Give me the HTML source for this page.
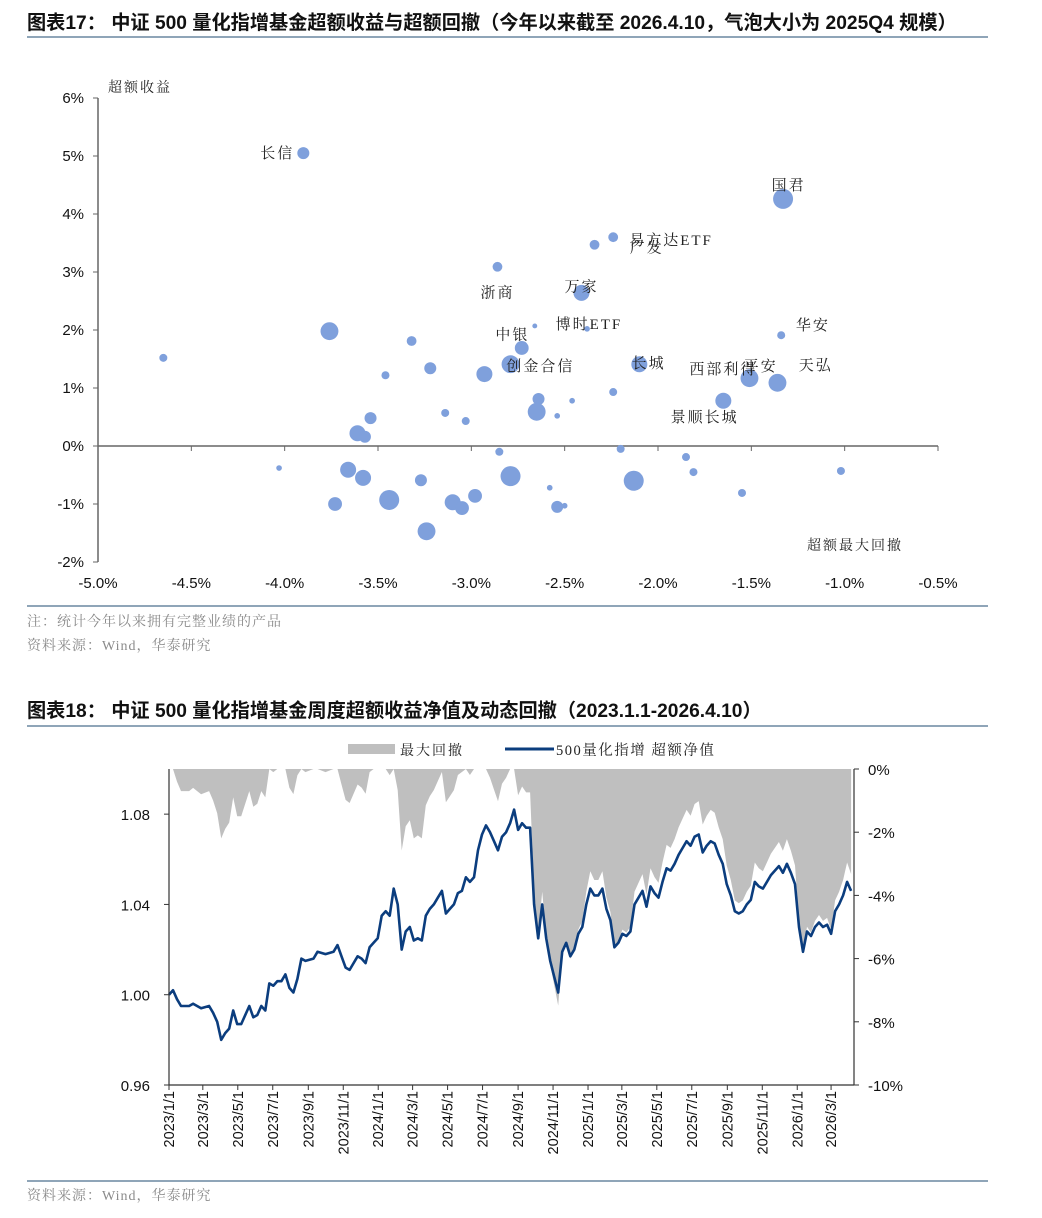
<!DOCTYPE html>
<html><head><meta charset="utf-8">
<style>
body{margin:0;background:#fff;}
svg{display:block;font-family:"Liberation Sans","Noto Sans CJK SC",sans-serif;}
.cn{font-family:"Liberation Serif","Noto Serif CJK SC",serif;}
</style></head>
<body>
<svg id="page" width="1042" height="1218" viewBox="0 0 1042 1218">
  <text x="27" y="29" font-size="19.2" font-weight="bold" fill="#111">图表17： 中证 500 量化指增基金超额收益与超额回撤（今年以来截至 2026.4.10，气泡大小为 2025Q4 规模）</text>
  <line x1="27" y1="37" x2="988" y2="37" stroke="#8fa5b8" stroke-width="2"/>
  <g id="scatter"></g>
  <line x1="27" y1="606" x2="988" y2="606" stroke="#8fa5b8" stroke-width="2"/>
  <text x="27" y="626" font-size="14" fill="#8a8a8a" class="cn" letter-spacing="1">注：统计今年以来拥有完整业绩的产品</text>
  <text x="27" y="650" font-size="14" fill="#8a8a8a" class="cn" letter-spacing="1">资料来源：Wind，华泰研究</text>
  <text x="27" y="717" font-size="19.2" font-weight="bold" fill="#111">图表18： 中证 500 量化指增基金周度超额收益净值及动态回撤（2023.1.1-2026.4.10）</text>
  <line x1="27" y1="726" x2="988" y2="726" stroke="#8fa5b8" stroke-width="2"/>
  <g id="linechart"></g>
  <line x1="27" y1="1181" x2="988" y2="1181" stroke="#8fa5b8" stroke-width="2"/>
  <text x="27" y="1200" font-size="14" fill="#8a8a8a" class="cn" letter-spacing="1">资料来源：Wind，华泰研究</text>
</svg>
<script>
// ---------- Chart 17 data ----------
const bubbleX = [-4.65,-3.90,-3.76,-3.32,-3.46,-3.22,-2.93,-2.86,-2.73,-2.79,-2.66,-3.54,-3.61,-3.57,-3.14,-3.03,-2.65,-2.64,-2.85,-2.79,-4.03,-3.66,-3.58,-3.73,-3.44,-3.27,-3.24,-3.10,-3.05,-2.98,-1.33,-2.24,-2.34,-2.41,-2.38,-2.10,-1.34,-1.51,-1.36,-1.65,-2.24,-2.46,-2.54,-2.20,-2.13,-1.85,-1.81,-2.58,-1.02,-1.55,-2.54,-2.50];
const bubbleY = [1.52,5.05,1.98,1.81,1.22,1.34,1.24,3.09,1.69,1.41,2.07,0.48,0.22,0.16,0.57,0.43,0.59,0.81,-0.10,-0.52,-0.38,-0.41,-0.55,-1.00,-0.93,-0.59,-1.47,-0.97,-1.07,-0.86,4.26,3.60,3.47,2.64,2.02,1.41,1.91,1.17,1.09,0.78,0.93,0.78,0.52,-0.05,-0.60,-0.19,-0.45,-0.72,-0.43,-0.81,-1.05,-1.03];
const bubbleScale = [4,9,20,6,4,9,16,6,12,20,1.5,9,16,9,4,4,20,9,4,25,2,16,16,12,25,9,20,16,12,12,25,6,6,16,2,16,4,20,20,16,4,2,2,4,25,4,4,2,4,4,9,2];
const labelNames = ["长信","国君","易方达ETF","广发","浙商","万家","博时ETF","中银","创金合信","长城","西部利得","平安","华安","天弘","景顺长城"];
const labelX = [-4.04,-1.30,-1.93,-2.06,-2.86,-2.41,-2.37,-2.78,-2.63,-2.05,-1.65,-1.45,-1.17,-1.155,-1.75];
const labelY = [5.05,4.50,3.55,3.42,2.65,2.75,2.10,1.92,1.38,1.43,1.33,1.38,2.09,1.40,0.50];
const sxTicks = [-5.0,-4.5,-4.0,-3.5,-3.0,-2.5,-2.0,-1.5,-1.0,-0.5];
const syTicks = [6,5,4,3,2,1,0,-1,-2];

// ---------- Chart 18 data ----------
const navWeeks = [0,1,2,3,5,6,8,10,11,12,13,14,15,16,17,18,20,21,22,23,24,25,26,27,28,29,30,31,32,33,34,36,37,39,41,42,43,44,45,47,48,49,50,51,52,53,54,55,56,57,58,59,60,61,62,63,64,65,66,67,68,69,70,71,72,73,74,75,76,77,78,79,80,81,82,83,84,85,86,87,88,89,90,91,92,93,94,95,96,97,98,99,100,101,102,103,104,105,106,107,108,109,110,111,112,113,114,115,116,117,118,119,120,121,122,123,124,125,126,127,128,129,130,131,132,133,134,135,136,137,138,139,140,141,142,143,144,145,146,147,148,149,150,151,152,153,154,155,156,157,158,159,160,161,162,163,164,165,166,167,168,169,170];
const navValues = [1.000,1.002,0.998,0.995,0.995,0.996,0.994,0.995,0.992,0.988,0.980,0.983,0.985,0.993,0.987,0.987,0.995,0.990,0.991,0.995,0.993,1.005,1.004,1.006,1.006,1.009,1.003,1.001,1.007,1.016,1.015,1.016,1.019,1.018,1.019,1.022,1.017,1.012,1.011,1.017,1.016,1.014,1.021,1.023,1.025,1.035,1.037,1.035,1.047,1.040,1.020,1.028,1.030,1.024,1.025,1.024,1.035,1.038,1.040,1.043,1.046,1.036,1.038,1.040,1.045,1.046,1.052,1.050,1.052,1.064,1.071,1.075,1.072,1.068,1.064,1.070,1.072,1.076,1.082,1.073,1.076,1.074,1.074,1.040,1.025,1.040,1.025,1.015,1.008,1.001,1.019,1.023,1.017,1.020,1.027,1.030,1.040,1.047,1.044,1.044,1.047,1.038,1.033,1.021,1.023,1.027,1.026,1.028,1.040,1.043,1.046,1.039,1.048,1.045,1.043,1.050,1.056,1.055,1.058,1.062,1.065,1.068,1.066,1.070,1.071,1.063,1.066,1.068,1.067,1.062,1.058,1.049,1.044,1.037,1.036,1.037,1.040,1.042,1.050,1.048,1.047,1.050,1.053,1.055,1.057,1.054,1.058,1.054,1.049,1.030,1.019,1.028,1.026,1.030,1.032,1.030,1.031,1.027,1.037,1.040,1.044,1.050,1.046];
const leftTicks = [0.96,1.00,1.04,1.08];
const rightTicks = [0,-2,-4,-6,-8,-10];
const dateTicks = ["2023/1/1","2023/3/1","2023/5/1","2023/7/1","2023/9/1","2023/11/1","2024/1/1","2024/3/1","2024/5/1","2024/7/1","2024/9/1","2024/11/1","2025/1/1","2025/3/1","2025/5/1","2025/7/1","2025/9/1","2025/11/1","2026/1/1","2026/3/1"];

const NS = "http://www.w3.org/2000/svg";
function mk(parent, tag, attrs, text){
  const e = document.createElementNS(NS, tag);
  for (const k in attrs) e.setAttribute(k, attrs[k]);
  if (text !== undefined) e.textContent = text;
  parent.appendChild(e);
  return e;
}

// ---------- draw chart 17 ----------
(function(){
  const g = document.getElementById('scatter');
  const X0 = 98, X1 = 938, Y0 = 98, Y1 = 562;
  const sx = v => X0 + (v - (-5)) / 4.5 * (X1 - X0);
  const sy = v => Y0 + (6 - v) / 8 * (Y1 - Y0);
  const yAxis = mk(g, 'line', {x1:X0, y1:Y0, x2:X0, y2:Y1, stroke:'#666', 'stroke-width':1.5});
  
  
  const xAxis = mk(g, 'line', {x1:X0, y1:sy(0), x2:X1, y2:sy(0), stroke:'#666', 'stroke-width':1.5});
  
  
  syTicks.forEach(t => {
    mk(g, 'line', {x1:X0-5, y1:sy(t), x2:X0, y2:sy(t), stroke:'#666'});
    const lb = mk(g, 'text', {x:84, y:sy(t)+5, 'font-size':15, 'text-anchor':'end', fill:'#111'}, t + '%');
    
    
  });
  sxTicks.forEach(t => {
    mk(g, 'line', {x1:sx(t), y1:sy(0), x2:sx(t), y2:sy(0)+5, stroke:'#666'});
    const lb = mk(g, 'text', {x:sx(t), y:588, 'font-size':15, 'text-anchor':'middle', fill:'#111'}, t.toFixed(1) + '%');
    
    
  });
  const yt = mk(g, 'text', {x:108, y:92, 'font-size':14, fill:'#222', class:'cn', 'letter-spacing':2}, '超额收益');
  
  
  const xt = mk(g, 'text', {x:807, y:550, 'font-size':14, fill:'#222', class:'cn', 'letter-spacing':2}, '超额最大回撤');
  
  
  bubbleX.forEach((v, i) => {
    const c = mk(g, 'circle', {cx:sx(v), cy:sy(bubbleY[i]), r:2*Math.sqrt(bubbleScale[i]), fill:'#7fa0dc'});
    
    
  });
  labelNames.forEach((n, i) => {
    const t = mk(g, 'text', {x:sx(labelX[i]), y:sy(labelY[i])+5, 'font-size':15, 'text-anchor':'middle', fill:'#222', class:'cn', 'letter-spacing':2}, n);
    
    
  });
})();

// ---------- draw chart 18 ----------
(function(){
  const g = document.getElementById('linechart');
  const X0 = 169, X1 = 854, Y0 = 769, Y1 = 1085;
  const TOTAL_DAYS = 1195;
  const start = Date.UTC(2023,0,1);
  const sxDay = d => X0 + d / TOTAL_DAYS * (X1 - X0);
  const sxWeek = w => sxDay(w * 7);
  const syL = v => Y0 + (1.10 - v) / 0.14 * (Y1 - Y0);
  const syR = p => Y0 + (-p) / 10 * (Y1 - Y0);

  let peak = -Infinity;
  const dd = navValues.map(v => { peak = Math.max(peak, v); return (v / peak - 1) * 100; });
  let dA = 'M' + sxWeek(navWeeks[0]) + ',' + syR(0);
  navWeeks.forEach((w, i) => { dA += ' L' + sxWeek(w).toFixed(1) + ',' + syR(dd[i]).toFixed(1); });
  dA += ' L' + sxWeek(navWeeks[navWeeks.length-1]) + ',' + syR(0) + ' Z';
  const area = mk(g, 'path', {d:dA, fill:'#bfbfbf'});
  
  

  let dL = '';
  navWeeks.forEach((w, i) => { dL += (i ? ' L' : 'M') + sxWeek(w).toFixed(1) + ',' + syL(navValues[i]).toFixed(1); });
  const line = mk(g, 'path', {d:dL, fill:'none', stroke:'#0b3d7e', 'stroke-width':2.6, 'stroke-linejoin':'round'});
  
  

  const la = mk(g, 'line', {x1:X0, y1:Y0, x2:X0, y2:Y1, stroke:'#333', 'stroke-width':1.2});
  
  
  const ra = mk(g, 'line', {x1:X1, y1:Y0, x2:X1, y2:Y1, stroke:'#333', 'stroke-width':1.2});
  
  
  const ba = mk(g, 'line', {x1:X0, y1:Y1, x2:X1, y2:Y1, stroke:'#333', 'stroke-width':1.2});
  
  

  leftTicks.forEach(t => {
    mk(g, 'line', {x1:X0-5, y1:syL(t), x2:X0, y2:syL(t), stroke:'#333'});
    const lb = mk(g, 'text', {x:150, y:syL(t)+6, 'font-size':15, 'text-anchor':'end', fill:'#111'}, t.toFixed(2));
    
    
  });
  rightTicks.forEach(t => {
    mk(g, 'line', {x1:X1, y1:syR(t), x2:X1+5, y2:syR(t), stroke:'#333'});
    const lb = mk(g, 'text', {x:868, y:syR(t)+6, 'font-size':15, fill:'#111'}, t + '%');
    
    
  });
  dateTicks.forEach(s => {
    const [y, m, d] = s.split('/').map(Number);
    const day = (Date.UTC(y, m-1, d) - start) / 86400000;
    const x = sxDay(day);
    mk(g, 'line', {x1:x, y1:Y1, x2:x, y2:Y1+5, stroke:'#333'});
    const lb = mk(g, 'text', {x:0, y:0, 'font-size':14.5, 'text-anchor':'end', fill:'#111', transform:'translate(' + (x+5) + ',' + (Y1+6) + ') rotate(-90)'}, s);
    
    
  });

  const lg1 = mk(g, 'rect', {x:348, y:744, width:47, height:10, fill:'#bfbfbf'});
  
  
  const lt1 = mk(g, 'text', {x:400, y:755, 'font-size':14, fill:'#222', class:'cn', 'letter-spacing':2}, '最大回撤');
  
  
  const lg2 = mk(g, 'line', {x1:505, y1:749, x2:554, y2:749, stroke:'#0b3d7e', 'stroke-width':3});
  
  
  const lt2 = mk(g, 'text', {x:556, y:755, 'font-size':14.5, fill:'#222', class:'cn', 'letter-spacing':1.5}, '500量化指增 超额净值');
  
  
})();
</script>
</body></html>
